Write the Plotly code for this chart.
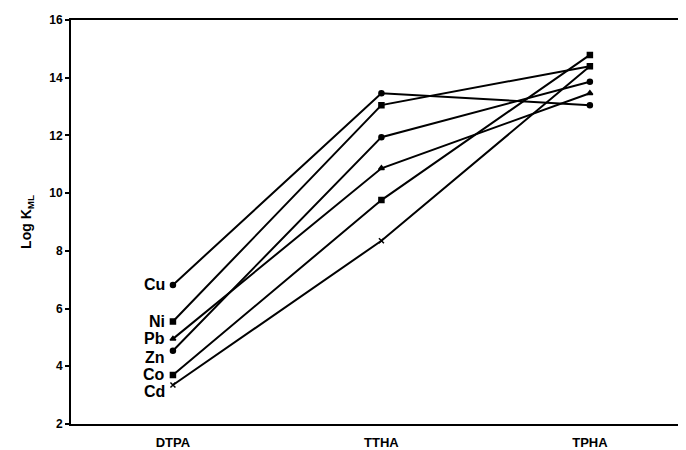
import plotly.graph_objects as go

chelators = ["DTPA", "TTHA", "TPHA"]
metals = ["Cu", "Ni", "Pb", "Zn", "Co", "Cd"]
log_k = {
    "Cu": [6.82, 13.46, 13.05],
    "Ni": [5.55, 13.05, 14.40],
    "Pb": [4.95, 10.86, 13.46],
    "Zn": [4.54, 11.94, 13.86],
    "Co": [3.70, 9.76, 14.79],
    "Cd": [3.35, 8.35, 14.40],
}
y_ticks = [2, 4, 6, 8, 10, 12, 14, 16]

symbols = {"Cu": "circle", "Ni": "square", "Pb": "triangle-up",
           "Zn": "circle", "Co": "square", "Cd": "x-thin"}
label_shift = {"Cu": 0, "Ni": 0, "Pb": 0, "Zn": -7, "Co": 0, "Cd": -6}

xpos = list(range(len(chelators)))
fig = go.Figure()
for m in metals:
    fig.add_trace(go.Scatter(
        x=xpos, y=log_k[m], mode="lines+markers",
        line=dict(color="black", width=2),
        marker=dict(symbol=symbols[m], size=5, color="black",
                    line=dict(color="black", width=1.5)),
        showlegend=False, hoverinfo="skip"))
    fig.add_annotation(x=xpos[0], y=log_k[m][0], text="<b>%s</b>" % m,
                       showarrow=False, xanchor="right", yanchor="middle",
                       xshift=-6, yshift=label_shift[m],
                       font=dict(family="Liberation Sans, Arial", size=16, color="black"))

fig.update_layout(
    width=678, height=442,
    margin=dict(l=63, r=0, t=12, b=26),
    paper_bgcolor="white", plot_bgcolor="white",
    font=dict(family="Liberation Sans, Arial", color="black"),
    xaxis=dict(range=[-0.489, 2.461], tickvals=xpos,
               ticktext=["<b>%s</b>" % c for c in chelators],
               showgrid=False, zeroline=False, showline=True, mirror=True,
               linecolor="black", linewidth=2, ticks="",
               tickfont=dict(size=13), ticklabelstandoff=5,
               automargin=False),
    yaxis=dict(range=[2, 16], tickvals=y_ticks,
               ticktext=["<b>%d</b>" % v for v in y_ticks],
               showgrid=False, zeroline=False, showline=True,
               linecolor="black", linewidth=2, ticks="outside",
               ticklen=4, tickwidth=1.5, tickcolor="black",
               tickfont=dict(size=12), automargin=False,
               title=dict(text="<b>Log K<sub>ML</sub></b>", font=dict(size=14), standoff=14)),
)
fig.write_html("out.html")
